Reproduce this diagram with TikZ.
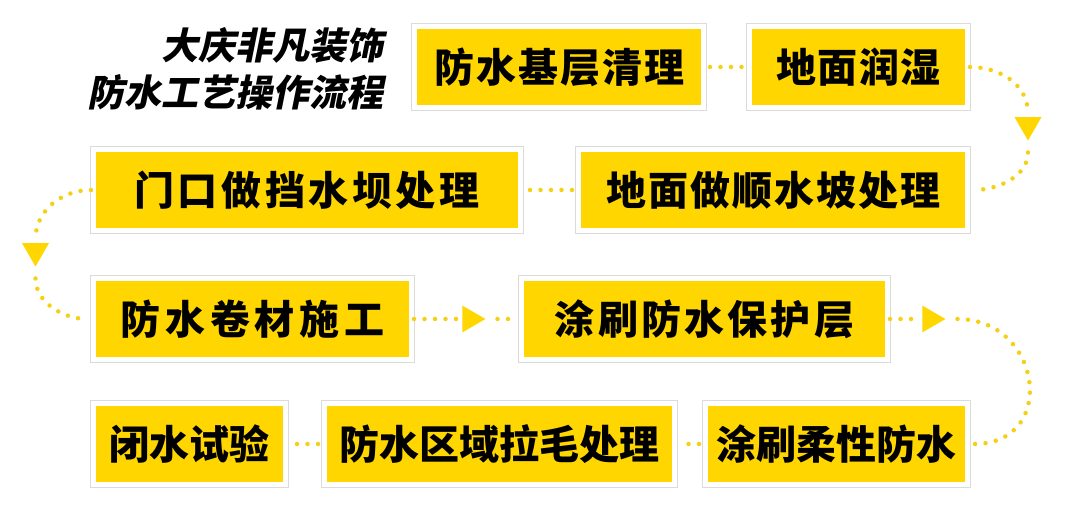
\documentclass[tikz,border=0pt]{standalone}
\usepackage{fontspec}
\newfontfamily\cjk{Noto Sans CJK SC}
\newfontfamily\cjkslant{Noto Sans CJK SC}[FakeSlant=0.2]
\usetikzlibrary{shapes.geometric}
\definecolor{boxyellow}{RGB}{255,214,0}
\definecolor{dotyellow}{RGB}{246,208,20}

\begin{document}
\begin{tikzpicture}[x=1pt,y=1pt,
	stepbox/.style={fill=boxyellow,draw=white,line width=5pt,preaction={draw=black!14,line width=7pt},minimum height=81pt,inner sep=0pt},
	flow/.style={draw=dotyellow,line width=4.5pt,line cap=round,dash pattern=on 0pt off 10.5pt,shorten <=4pt,shorten >=4pt},
	tip/.style={regular polygon,regular polygon sides=3,fill=boxyellow,minimum size=31pt,inner sep=0pt,outer sep=4pt}]
	\useasboundingbox (0,0) rectangle (1080,510);

	\node[anchor=east,align=right,inner sep=0pt,font=\cjkslant\bfseries\fontsize{37}{47}\selectfont] (title) at (384,441) {大庆非凡装饰\\防水工艺操作流程};

	\foreach \nm/\x/\y/\w/\ls/\t in {b1/559/443/289/5/防水基层清理, b2/858.5/443/218/4/地面润湿,
		b3/307/320/427/9/门口做挡水坝处理, b4/773/320/389/5/地面做顺水坡处理,
		b5/252.5/191/318/12/防水卷材施工, b6/704.5/191/366/8/涂刷防水保护层,
		b7/189.5/66/192/0/闭水试验, b8/499.5/66/350/0/防水区域拉毛处理, b9/836.5/66/262/0/涂刷柔性防水}
		\node[stepbox,minimum width=\w pt,font=\cjk\bfseries\fontsize{40}{40}\selectfont\addfontfeature{LetterSpace=\ls}] (\nm) at (\x,\y) {\t};

	\node[tip,shape border rotate=180] (t1) at (1028,385) {};
	\node[tip,shape border rotate=180] (t2) at (35.5,259) {};
	\node[tip,shape border rotate=-90] (t3) at (470,191) {};
	\node[tip,shape border rotate=-90] (t4) at (930,191) {};

	\draw[flow] (b1.east) -- (b2.west);
	\draw[flow] (b2.east) to[out=0,in=90] (t1) to[out=-90,in=0] (b4.east);
	\draw[flow] (b4.west) -- (b3.east);
	\draw[flow] (b3.west) to[out=180,in=90] (t2) to[out=-90,in=180] (b5.west);
	\draw[flow] (b5.east) -- (t3) -- (b6.west);
	\draw[flow] (b6.east) -- (t4) to[out=0,in=0,looseness=1.8] (b9.east);
	\draw[flow] (b9.west) -- (b8.east);
	\draw[flow] (b8.west) -- (b7.east);
\end{tikzpicture}
\end{document}
